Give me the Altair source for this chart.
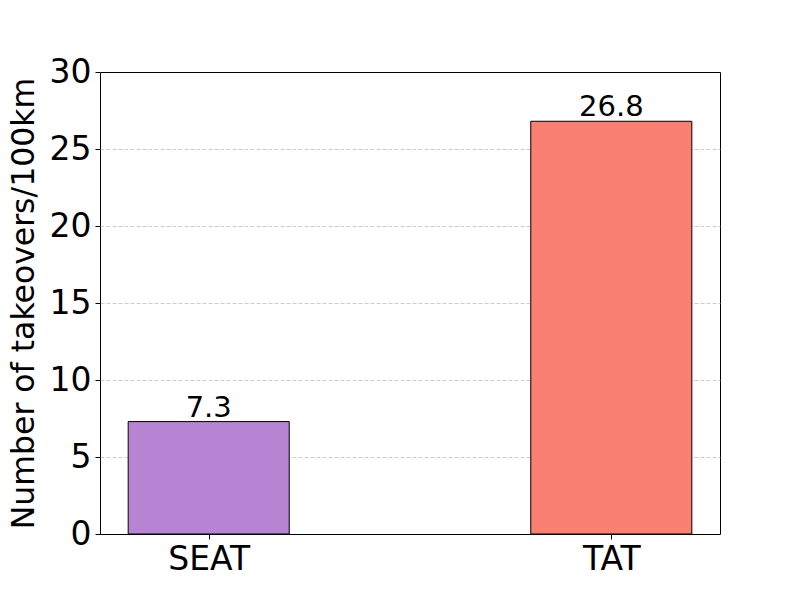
import altair as alt
import pandas as pd

categories = ["SEAT", "TAT"]
positions = [0, 1]
values = [7.3, 26.8]
colors = ["#b784d3", "#fa8072"]
value_labels = ["7.3", "26.8"]
y_ticks = [0, 5, 10, 15, 20, 25, 30]

half_width = 0.2
df = pd.DataFrame({
    "category": categories,
    "pos": positions,
    "value": values,
    "color": colors,
    "label": value_labels,
})
df["x0"] = df["pos"] - half_width
df["x1"] = df["pos"] + half_width

font = "DejaVu Sans"

xscale = alt.Scale(domain=[-0.27, 1.27], nice=False, zero=False)
yscale = alt.Scale(domain=[0, 30], nice=False)

base = alt.Chart(df)

bars = base.mark_bar(stroke="black", strokeWidth=1).encode(
    x=alt.X("x0:Q", scale=xscale, axis=alt.Axis(
        values=positions,
        labelExpr="datum.value == 0 ? 'SEAT' : 'TAT'",
        title=None, grid=False, labelFontSize=33, labelFont=font,
        labelColor="black", tickColor="black", tickSize=5, labelPadding=4,
        domain=False,
    )),
    x2="x1:Q",
    y=alt.Y("value:Q", scale=yscale, axis=alt.Axis(
        values=y_ticks, title="Number of takeovers/100km",
        titleFontSize=31.5, titleFont=font, titleFontWeight="normal",
        titleColor="black", titlePadding=9,
        labelFontSize=33, labelFont=font, labelColor="black",
        tickColor="black", tickSize=5, labelPadding=4,
        grid=True, gridColor="#c0c0c0", gridDash=[4, 2], gridWidth=0.8,
        gridOpacity={"condition": {"test": "datum.value == 0 || datum.value == 30", "value": 0}, "value": 1},
        domain=False,
    )),
    y2=alt.datum(0),
    color=alt.Color("color:N", scale=None),
)

texts = base.mark_text(fontSize=29, font=font, color="black",
                       baseline="alphabetic", dy=-5).encode(
    x=alt.X("pos:Q", scale=xscale),
    y=alt.Y("value:Q", scale=yscale),
    text="label:N",
)

chart = alt.layer(bars, texts).properties(
    width=620, height=462,
    background="white",
    autosize=alt.AutoSizeParams(type="none"),
    padding={"left": 92, "top": 64, "right": 72, "bottom": 58},
).configure_view(stroke="black", strokeWidth=1)

chart.save("out.html", embed_options={"renderer": "svg", "actions": False})
